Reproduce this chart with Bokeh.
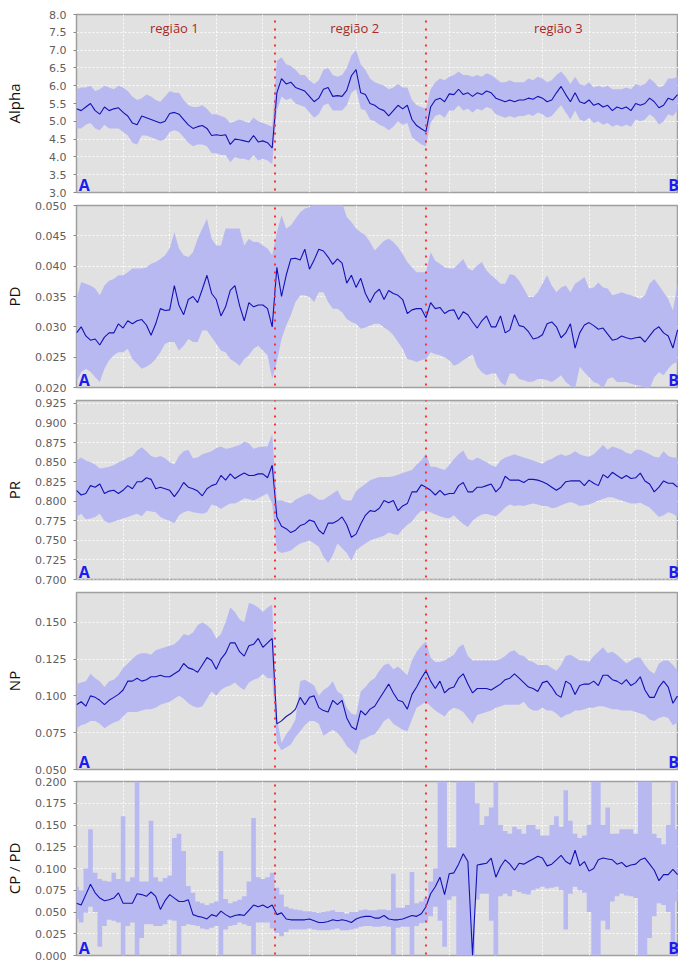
import numpy as np
from bokeh.plotting import figure
from bokeh.layouts import column
from bokeh.models import Range1d, SingleIntervalTicker, NumeralTickFormatter, Arrow
from bokeh.core.properties import value
from bokeh.embed import file_html
from bokeh.resources import INLINE

# ---------------- data ----------------
STEP = 0.1          # sample spacing along the transect (grid units)
X_END = 12.92
REGION_BOUNDS = [4.26, 7.50]
REGION_NAMES = ["região 1", "região 2", "região 3"]
REGION_LABEL_X = [2.10, 5.97, 10.34]
REGION_LABEL_Y = 7.62
END_LABELS = ["A", "B"]
END_LABEL_X = [0.05, 12.70]

ALPHA = [5.35, 5.30, 5.40, 5.50, 5.30, 5.20, 5.40, 5.30, 5.35, 5.38,
         5.25, 5.15, 4.95, 4.90, 5.15, 5.10, 5.05, 5.00, 4.95, 5.00,
         5.22, 5.25, 5.20, 5.05, 4.90, 4.80, 4.85, 4.88, 4.80, 4.60,
         4.62, 4.60, 4.62, 4.35, 4.50, 4.48, 4.45, 4.42, 4.60, 4.42,
         4.45, 4.40, 4.25, 5.80, 6.20, 6.05, 6.10, 5.95, 5.90, 5.85,
         5.70, 5.55, 5.65, 5.90, 5.95, 5.70, 5.72, 5.70, 5.87, 6.28,
         6.45, 5.80, 5.75, 5.50, 5.45, 5.35, 5.30, 5.15, 5.30, 5.45,
         5.35, 5.45, 5.05, 4.88, 4.79, 4.71, 5.40, 5.60, 5.65, 5.55,
         5.77, 5.75, 5.90, 5.75, 5.80, 5.70, 5.80, 5.75, 5.85, 5.80,
         5.65, 5.60, 5.55, 5.60, 5.55, 5.60, 5.60, 5.65, 5.62, 5.70,
         5.65, 5.55, 5.60, 5.80, 5.98, 5.75, 5.55, 5.80, 5.55, 5.50,
         5.60, 5.45, 5.50, 5.40, 5.45, 5.30, 5.40, 5.35, 5.40, 5.30,
         5.50, 5.45, 5.50, 5.65, 5.55, 5.38, 5.45, 5.65, 5.60, 5.75]
ALPHA_HI = [5.90, 5.95, 5.95, 6.00, 5.85, 5.90, 6.00, 5.95, 5.90, 6.00,
            5.95, 5.85, 5.70, 5.60, 5.65, 5.75, 5.70, 5.60, 5.55, 5.70,
            5.85, 5.80, 5.80, 5.60, 5.45, 5.40, 5.40, 5.45, 5.35, 5.20,
            5.20, 5.15, 5.10, 4.95, 5.00, 5.05, 5.00, 4.95, 5.10, 5.00,
            4.95, 4.90, 4.85, 6.70, 6.80, 6.60, 6.55, 6.45, 6.30, 6.30,
            6.15, 6.05, 6.15, 6.45, 6.50, 6.30, 6.25, 6.30, 6.50, 6.85,
            7.00, 6.60, 6.45, 6.20, 6.10, 6.05, 6.00, 5.90, 5.95, 6.05,
            5.95, 5.95, 5.60, 5.45, 5.40, 5.35, 5.90, 6.10, 6.20, 6.15,
            6.25, 6.30, 6.40, 6.30, 6.30, 6.25, 6.30, 6.25, 6.35, 6.30,
            6.20, 6.10, 6.10, 6.15, 6.10, 6.10, 6.10, 6.20, 6.15, 6.25,
            6.20, 6.10, 6.15, 6.30, 6.40, 6.25, 6.05, 6.25, 6.05, 6.00,
            6.10, 5.95, 6.00, 5.95, 6.00, 5.90, 5.90, 5.90, 5.95, 5.90,
            6.05, 6.00, 6.05, 6.20, 6.10, 5.95, 6.00, 6.20, 6.20, 6.25]
ALPHA_LO = [4.80, 4.80, 4.90, 4.95, 4.80, 4.75, 4.90, 4.80, 4.80, 4.80,
            4.70, 4.60, 4.40, 4.35, 4.60, 4.60, 4.55, 4.50, 4.45, 4.50,
            4.70, 4.75, 4.70, 4.55, 4.40, 4.30, 4.35, 4.35, 4.30, 4.10,
            4.10, 4.05, 4.05, 3.85, 4.00, 3.95, 3.95, 3.90, 4.05, 3.90,
            3.95, 3.90, 3.80, 5.30, 5.70, 5.60, 5.65, 5.50, 5.45, 5.40,
            5.25, 5.10, 5.20, 5.45, 5.50, 5.30, 5.30, 5.30, 5.45, 5.80,
            5.90, 5.35, 5.30, 5.05, 5.00, 4.90, 4.85, 4.75, 4.85, 5.00,
            4.90, 4.95, 4.55, 4.45, 4.35, 4.30, 4.95, 5.15, 5.20, 5.10,
            5.30, 5.30, 5.45, 5.30, 5.35, 5.25, 5.35, 5.30, 5.40, 5.35,
            5.20, 5.15, 5.10, 5.15, 5.10, 5.15, 5.15, 5.20, 5.15, 5.25,
            5.20, 5.10, 5.15, 5.30, 5.45, 5.25, 5.05, 5.30, 5.05, 5.00,
            5.10, 4.95, 5.00, 4.90, 4.95, 4.85, 4.90, 4.85, 4.90, 4.85,
            5.05, 5.00, 5.05, 5.20, 5.10, 4.90, 5.00, 5.20, 5.15, 5.30]

PD = [0.0290, 0.0300, 0.0285, 0.0278, 0.0280, 0.0270, 0.0283, 0.0290, 0.0290, 0.0305,
      0.0298, 0.0310, 0.0305, 0.0310, 0.0312, 0.0303, 0.0286, 0.0305, 0.0330, 0.0327,
      0.0328, 0.0368, 0.0335, 0.0320, 0.0345, 0.0350, 0.0340, 0.0362, 0.0385, 0.0355,
      0.0345, 0.0318, 0.0333, 0.0360, 0.0368, 0.0335, 0.0310, 0.0340, 0.0333, 0.0336,
      0.0336, 0.0330, 0.0300, 0.0398, 0.0350, 0.0385, 0.0412, 0.0413, 0.0410, 0.0428,
      0.0395, 0.0410, 0.0428, 0.0425, 0.0415, 0.0403, 0.0412, 0.0405, 0.0372, 0.0385,
      0.0365, 0.0380, 0.0355, 0.0340, 0.0355, 0.0362, 0.0345, 0.0360, 0.0355, 0.0352,
      0.0345, 0.0322, 0.0328, 0.0330, 0.0330, 0.0315, 0.0340, 0.0330, 0.0332, 0.0322,
      0.0327, 0.0328, 0.0312, 0.0325, 0.0320, 0.0308, 0.0298, 0.0310, 0.0318, 0.0300,
      0.0300, 0.0318, 0.0290, 0.0295, 0.0320, 0.0302, 0.0300, 0.0292, 0.0280, 0.0282,
      0.0287, 0.0305, 0.0308, 0.0300, 0.0282, 0.0290, 0.0305, 0.0265, 0.0290, 0.0303,
      0.0307, 0.0302, 0.0296, 0.0298, 0.0288, 0.0278, 0.0280, 0.0285, 0.0282, 0.0280,
      0.0282, 0.0283, 0.0275, 0.0285, 0.0295, 0.0300, 0.0290, 0.0285, 0.0265, 0.0295]
PD_HI = [0.0346, 0.0374, 0.0371, 0.0368, 0.0363, 0.0352, 0.0368, 0.0376, 0.0379, 0.0385,
         0.0385, 0.0390, 0.0396, 0.0396, 0.0396, 0.0398, 0.0404, 0.0407, 0.0412, 0.0418,
         0.0429, 0.0456, 0.0429, 0.0418, 0.0415, 0.0423, 0.0445, 0.0462, 0.0478, 0.0445,
         0.0434, 0.0434, 0.0462, 0.0462, 0.0462, 0.0462, 0.0434, 0.0445, 0.0440, 0.0440,
         0.0434, 0.0429, 0.0418, 0.0456, 0.0484, 0.0462, 0.0467, 0.0478, 0.0489, 0.0495,
         0.0497, 0.0505, 0.0510, 0.0510, 0.0510, 0.0510, 0.0510, 0.0505, 0.0481, 0.0473,
         0.0462, 0.0456, 0.0451, 0.0440, 0.0426, 0.0434, 0.0442, 0.0445, 0.0440, 0.0431,
         0.0420, 0.0407, 0.0398, 0.0390, 0.0390, 0.0390, 0.0423, 0.0409, 0.0404, 0.0398,
         0.0396, 0.0396, 0.0404, 0.0412, 0.0396, 0.0393, 0.0401, 0.0407, 0.0393, 0.0385,
         0.0379, 0.0371, 0.0371, 0.0387, 0.0385, 0.0376, 0.0363, 0.0349, 0.0349, 0.0357,
         0.0371, 0.0385, 0.0368, 0.0357, 0.0365, 0.0368, 0.0357, 0.0371, 0.0376, 0.0382,
         0.0363, 0.0365, 0.0373, 0.0365, 0.0363, 0.0352, 0.0354, 0.0357, 0.0354, 0.0352,
         0.0349, 0.0346, 0.0352, 0.0371, 0.0379, 0.0368, 0.0357, 0.0346, 0.0327, 0.0371]
PD_LO = [0.0209, 0.0225, 0.0231, 0.0226, 0.0217, 0.0209, 0.0231, 0.0245, 0.0253, 0.0258,
         0.0258, 0.0264, 0.0247, 0.0239, 0.0231, 0.0234, 0.0239, 0.0247, 0.0258, 0.0272,
         0.0275, 0.0275, 0.0261, 0.0269, 0.0280, 0.0275, 0.0275, 0.0294, 0.0294, 0.0283,
         0.0272, 0.0261, 0.0258, 0.0247, 0.0242, 0.0236, 0.0247, 0.0253, 0.0264, 0.0269,
         0.0261, 0.0253, 0.0214, 0.0242, 0.0280, 0.0302, 0.0319, 0.0341, 0.0352, 0.0352,
         0.0349, 0.0341, 0.0357, 0.0357, 0.0341, 0.0330, 0.0330, 0.0324, 0.0313, 0.0308,
         0.0305, 0.0297, 0.0299, 0.0302, 0.0305, 0.0305, 0.0299, 0.0294, 0.0286, 0.0275,
         0.0264, 0.0247, 0.0245, 0.0242, 0.0245, 0.0247, 0.0258, 0.0255, 0.0253, 0.0250,
         0.0245, 0.0236, 0.0239, 0.0245, 0.0250, 0.0255, 0.0234, 0.0225, 0.0220, 0.0223,
         0.0223, 0.0209, 0.0203, 0.0223, 0.0223, 0.0214, 0.0212, 0.0209, 0.0210, 0.0214,
         0.0214, 0.0212, 0.0209, 0.0214, 0.0220, 0.0209, 0.0203, 0.0198, 0.0234, 0.0225,
         0.0217, 0.0209, 0.0206, 0.0198, 0.0214, 0.0217, 0.0209, 0.0209, 0.0209, 0.0206,
         0.0204, 0.0203, 0.0199, 0.0198, 0.0217, 0.0225, 0.0220, 0.0231, 0.0239, 0.0242]

PR = [0.814, 0.808, 0.810, 0.820, 0.818, 0.822, 0.810, 0.813, 0.814, 0.810,
      0.814, 0.820, 0.816, 0.825, 0.825, 0.830, 0.828, 0.816, 0.818, 0.816,
      0.814, 0.806, 0.814, 0.824, 0.818, 0.816, 0.813, 0.807, 0.816, 0.820,
      0.822, 0.833, 0.827, 0.835, 0.829, 0.833, 0.836, 0.833, 0.833, 0.835,
      0.835, 0.830, 0.846, 0.780, 0.768, 0.765, 0.760, 0.763, 0.769, 0.771,
      0.776, 0.774, 0.763, 0.758, 0.772, 0.772, 0.775, 0.780, 0.770, 0.754,
      0.758, 0.771, 0.782, 0.788, 0.787, 0.791, 0.801, 0.798, 0.801, 0.788,
      0.794, 0.797, 0.812, 0.812, 0.821, 0.818, 0.814, 0.808, 0.814, 0.808,
      0.810, 0.810, 0.820, 0.824, 0.812, 0.812, 0.818, 0.818, 0.820, 0.822,
      0.812, 0.818, 0.832, 0.827, 0.827, 0.827, 0.824, 0.828, 0.828, 0.827,
      0.825, 0.822, 0.818, 0.814, 0.818, 0.825, 0.826, 0.826, 0.826, 0.820,
      0.827, 0.823, 0.820, 0.834, 0.830, 0.837, 0.833, 0.829, 0.833, 0.829,
      0.830, 0.836, 0.826, 0.822, 0.812, 0.818, 0.826, 0.823, 0.823, 0.818]
PR_HI = [0.852, 0.856, 0.852, 0.850, 0.847, 0.842, 0.843, 0.844, 0.846, 0.850,
         0.852, 0.856, 0.858, 0.865, 0.869, 0.864, 0.858, 0.856, 0.858, 0.855,
         0.850, 0.847, 0.858, 0.864, 0.866, 0.855, 0.856, 0.860, 0.862, 0.864,
         0.868, 0.870, 0.867, 0.868, 0.870, 0.872, 0.876, 0.874, 0.867, 0.869,
         0.870, 0.870, 0.886, 0.801, 0.801, 0.799, 0.797, 0.802, 0.805, 0.808,
         0.810, 0.806, 0.802, 0.802, 0.806, 0.810, 0.814, 0.803, 0.801, 0.801,
         0.813, 0.818, 0.822, 0.827, 0.829, 0.831, 0.831, 0.831, 0.832, 0.834,
         0.836, 0.838, 0.840, 0.847, 0.852, 0.861, 0.844, 0.844, 0.842, 0.840,
         0.846, 0.854, 0.860, 0.865, 0.854, 0.852, 0.856, 0.853, 0.850, 0.846,
         0.844, 0.852, 0.856, 0.858, 0.860, 0.858, 0.856, 0.854, 0.852, 0.850,
         0.848, 0.852, 0.854, 0.858, 0.860, 0.858, 0.860, 0.864, 0.860, 0.858,
         0.857, 0.860, 0.866, 0.872, 0.866, 0.870, 0.868, 0.866, 0.862, 0.860,
         0.866, 0.866, 0.863, 0.860, 0.857, 0.856, 0.864, 0.858, 0.856, 0.856]
PR_LO = [0.780, 0.784, 0.777, 0.778, 0.780, 0.784, 0.775, 0.772, 0.774, 0.776,
         0.778, 0.780, 0.782, 0.784, 0.781, 0.788, 0.787, 0.786, 0.780, 0.777,
         0.775, 0.772, 0.782, 0.786, 0.788, 0.786, 0.785, 0.784, 0.786, 0.796,
         0.794, 0.790, 0.794, 0.797, 0.797, 0.800, 0.804, 0.803, 0.801, 0.804,
         0.807, 0.810, 0.797, 0.737, 0.734, 0.735, 0.737, 0.742, 0.746, 0.748,
         0.750, 0.746, 0.742, 0.729, 0.721, 0.731, 0.746, 0.740, 0.734, 0.724,
         0.737, 0.742, 0.746, 0.750, 0.752, 0.754, 0.756, 0.760, 0.758, 0.757,
         0.764, 0.770, 0.774, 0.782, 0.788, 0.788, 0.786, 0.783, 0.781, 0.779,
         0.778, 0.782, 0.776, 0.771, 0.767, 0.775, 0.780, 0.783, 0.784, 0.782,
         0.781, 0.786, 0.792, 0.796, 0.794, 0.795, 0.794, 0.796, 0.797, 0.796,
         0.794, 0.794, 0.791, 0.792, 0.795, 0.797, 0.799, 0.797, 0.794, 0.795,
         0.796, 0.798, 0.801, 0.803, 0.805, 0.805, 0.803, 0.801, 0.799, 0.797,
         0.797, 0.798, 0.795, 0.792, 0.786, 0.780, 0.782, 0.786, 0.784, 0.780]

NP = [0.094, 0.096, 0.093, 0.100, 0.099, 0.097, 0.094, 0.097, 0.099, 0.101,
      0.104, 0.110, 0.110, 0.112, 0.110, 0.111, 0.113, 0.113, 0.114, 0.113,
      0.113, 0.115, 0.117, 0.122, 0.119, 0.118, 0.116, 0.121, 0.126, 0.124,
      0.118, 0.125, 0.129, 0.136, 0.136, 0.130, 0.127, 0.134, 0.135, 0.139,
      0.133, 0.136, 0.139, 0.081, 0.083, 0.086, 0.088, 0.091, 0.099, 0.094,
      0.099, 0.100, 0.092, 0.090, 0.089, 0.097, 0.094, 0.097, 0.085, 0.079,
      0.077, 0.090, 0.087, 0.091, 0.093, 0.098, 0.103, 0.108, 0.102, 0.097,
      0.096, 0.091, 0.101, 0.106, 0.112, 0.117, 0.110, 0.105, 0.110, 0.102,
      0.105, 0.106, 0.112, 0.115, 0.108, 0.102, 0.105, 0.105, 0.105, 0.104,
      0.106, 0.108, 0.111, 0.112, 0.115, 0.112, 0.109, 0.106, 0.105, 0.103,
      0.109, 0.110, 0.106, 0.101, 0.099, 0.110, 0.108, 0.101, 0.107, 0.108,
      0.108, 0.110, 0.107, 0.114, 0.114, 0.111, 0.110, 0.108, 0.111, 0.107,
      0.109, 0.113, 0.104, 0.099, 0.099, 0.106, 0.110, 0.106, 0.095, 0.100]
NP_HI = [0.108, 0.109, 0.110, 0.115, 0.112, 0.110, 0.106, 0.110, 0.111, 0.114,
         0.119, 0.122, 0.125, 0.128, 0.129, 0.129, 0.128, 0.131, 0.132, 0.133,
         0.134, 0.135, 0.138, 0.142, 0.141, 0.143, 0.148, 0.150, 0.148, 0.145,
         0.139, 0.142, 0.150, 0.160, 0.157, 0.152, 0.150, 0.163, 0.162, 0.160,
         0.157, 0.160, 0.162, 0.085, 0.068, 0.074, 0.078, 0.084, 0.110, 0.111,
         0.109, 0.107, 0.100, 0.104, 0.106, 0.110, 0.103, 0.101, 0.092, 0.088,
         0.087, 0.103, 0.106, 0.110, 0.112, 0.117, 0.121, 0.122, 0.118, 0.120,
         0.117, 0.114, 0.124, 0.130, 0.134, 0.137, 0.126, 0.123, 0.123, 0.124,
         0.126, 0.128, 0.133, 0.135, 0.127, 0.124, 0.124, 0.124, 0.124, 0.124,
         0.124, 0.125, 0.127, 0.130, 0.131, 0.128, 0.127, 0.124, 0.123, 0.121,
         0.121, 0.121, 0.119, 0.117, 0.121, 0.127, 0.128, 0.126, 0.124, 0.124,
         0.123, 0.127, 0.130, 0.133, 0.129, 0.130, 0.128, 0.125, 0.122, 0.124,
         0.126, 0.126, 0.121, 0.117, 0.115, 0.122, 0.124, 0.124, 0.121, 0.117]
NP_LO = [0.078, 0.080, 0.081, 0.083, 0.083, 0.081, 0.078, 0.080, 0.082, 0.083,
         0.086, 0.089, 0.089, 0.089, 0.090, 0.091, 0.091, 0.092, 0.094, 0.095,
         0.096, 0.098, 0.100, 0.098, 0.095, 0.093, 0.092, 0.093, 0.098, 0.103,
         0.100, 0.104, 0.106, 0.107, 0.109, 0.106, 0.104, 0.109, 0.111, 0.112,
         0.115, 0.112, 0.112, 0.068, 0.063, 0.065, 0.067, 0.072, 0.076, 0.080,
         0.083, 0.083, 0.081, 0.073, 0.075, 0.077, 0.075, 0.071, 0.066, 0.063,
         0.060, 0.070, 0.071, 0.073, 0.074, 0.078, 0.083, 0.085, 0.081, 0.079,
         0.077, 0.076, 0.084, 0.092, 0.094, 0.096, 0.093, 0.090, 0.088, 0.086,
         0.090, 0.092, 0.091, 0.089, 0.085, 0.081, 0.087, 0.088, 0.089, 0.090,
         0.092, 0.093, 0.094, 0.094, 0.094, 0.094, 0.096, 0.092, 0.090, 0.090,
         0.092, 0.090, 0.090, 0.088, 0.085, 0.087, 0.088, 0.090, 0.090, 0.091,
         0.092, 0.092, 0.093, 0.093, 0.092, 0.091, 0.091, 0.090, 0.090, 0.090,
         0.089, 0.088, 0.087, 0.084, 0.083, 0.085, 0.086, 0.085, 0.080, 0.082]

CPPD = [0.060, 0.058, 0.070, 0.082, 0.072, 0.066, 0.063, 0.064, 0.066, 0.072,
        0.060, 0.060, 0.060, 0.071, 0.070, 0.068, 0.073, 0.068, 0.053, 0.063,
        0.070, 0.066, 0.062, 0.062, 0.064, 0.047, 0.045, 0.044, 0.042, 0.047,
        0.045, 0.051, 0.047, 0.044, 0.046, 0.047, 0.046, 0.052, 0.058, 0.056,
        0.058, 0.055, 0.058, 0.047, 0.049, 0.042, 0.041, 0.041, 0.041, 0.041,
        0.042, 0.040, 0.038, 0.038, 0.039, 0.041, 0.040, 0.041, 0.040, 0.038,
        0.042, 0.044, 0.045, 0.045, 0.043, 0.043, 0.046, 0.042, 0.041, 0.041,
        0.042, 0.044, 0.046, 0.045, 0.048, 0.056, 0.071, 0.079, 0.090, 0.070,
        0.094, 0.095, 0.105, 0.117, 0.108, 0.000, 0.104, 0.105, 0.106, 0.112,
        0.090, 0.102, 0.110, 0.105, 0.098, 0.106, 0.105, 0.108, 0.111, 0.114,
        0.112, 0.103, 0.105, 0.110, 0.115, 0.108, 0.105, 0.121, 0.103, 0.108,
        0.097, 0.100, 0.110, 0.112, 0.111, 0.110, 0.105, 0.107, 0.102, 0.104,
        0.105, 0.110, 0.112, 0.105, 0.098, 0.086, 0.093, 0.093, 0.099, 0.093]
CPPD_HI = [0.079, 0.075, 0.100, 0.145, 0.095, 0.088, 0.086, 0.085, 0.095, 0.088,
           0.160, 0.085, 0.090, 0.200, 0.085, 0.085, 0.155, 0.090, 0.085, 0.089,
           0.092, 0.135, 0.140, 0.120, 0.080, 0.072, 0.062, 0.060, 0.058, 0.060,
           0.062, 0.120, 0.065, 0.060, 0.062, 0.064, 0.068, 0.085, 0.158, 0.090,
           0.088, 0.090, 0.095, 0.078, 0.070, 0.056, 0.054, 0.053, 0.052, 0.051,
           0.051, 0.050, 0.049, 0.050, 0.051, 0.052, 0.050, 0.050, 0.048, 0.050,
           0.050, 0.052, 0.053, 0.052, 0.052, 0.053, 0.053, 0.052, 0.094, 0.055,
           0.055, 0.058, 0.096, 0.060, 0.062, 0.066, 0.085, 0.100, 0.200, 0.200,
           0.124, 0.124, 0.200, 0.200, 0.200, 0.200, 0.175, 0.150, 0.160, 0.170,
           0.200, 0.150, 0.143, 0.140, 0.148, 0.145, 0.140, 0.150, 0.150, 0.145,
           0.138, 0.138, 0.150, 0.160, 0.148, 0.190, 0.155, 0.140, 0.135, 0.138,
           0.150, 0.200, 0.200, 0.150, 0.170, 0.140, 0.140, 0.145, 0.145, 0.145,
           0.140, 0.200, 0.200, 0.200, 0.140, 0.135, 0.128, 0.150, 0.200, 0.145]
CPPD_LO = [0.042, 0.038, 0.049, 0.056, 0.050, 0.010, 0.034, 0.041, 0.040, 0.038,
           0.000, 0.034, 0.038, 0.000, 0.020, 0.036, 0.036, 0.034, 0.034, 0.036,
           0.041, 0.040, 0.000, 0.034, 0.036, 0.035, 0.034, 0.031, 0.030, 0.032,
           0.034, 0.000, 0.030, 0.034, 0.035, 0.038, 0.036, 0.034, 0.000, 0.038,
           0.038, 0.038, 0.031, 0.026, 0.022, 0.027, 0.030, 0.030, 0.030, 0.030,
           0.031, 0.030, 0.029, 0.029, 0.029, 0.030, 0.031, 0.029, 0.029, 0.030,
           0.031, 0.033, 0.034, 0.034, 0.033, 0.033, 0.034, 0.033, 0.000, 0.032,
           0.033, 0.033, 0.000, 0.034, 0.037, 0.038, 0.045, 0.056, 0.040, 0.010,
           0.064, 0.068, 0.000, 0.000, 0.000, 0.000, 0.064, 0.071, 0.071, 0.040,
           0.000, 0.068, 0.071, 0.068, 0.075, 0.073, 0.071, 0.070, 0.075, 0.077,
           0.079, 0.077, 0.078, 0.079, 0.075, 0.030, 0.071, 0.079, 0.075, 0.072,
           0.050, 0.000, 0.000, 0.040, 0.030, 0.062, 0.068, 0.071, 0.069, 0.068,
           0.066, 0.000, 0.000, 0.020, 0.045, 0.060, 0.058, 0.050, 0.000, 0.062]

PANEL_NAMES = ["Alpha", "PD", "PR", "NP", "CP / PD"]
PANEL_LINES = [ALPHA, PD, PR, NP, CPPD]
PANEL_HI = [ALPHA_HI, PD_HI, PR_HI, NP_HI, CPPD_HI]
PANEL_LO = [ALPHA_LO, PD_LO, PR_LO, NP_LO, CPPD_LO]
PANEL_SPIKY = [False, False, False, False, True]
Y_RANGES = [(3.0, 8.0), (0.020, 0.050), (0.700, 0.9288), (0.050, 0.1702), (0.000, 0.200)]
Y_TICK_STEP = [0.5, 0.005, 0.025, 0.025, 0.025]
Y_FORMAT = ["0.0", "0.000", "0.000", "0.000", "0.000"]

# ---------------- layout / style ----------------
FIG_W = 678
LEFT = 76
BORDERS = [(14, 178, 6), (7, 182, 6), (7, 179, 6), (7, 177, 6), (6, 174, 7)]  # top, frame, bottom
LABEL_STANDOFF = [22, 8, 8, 8, 8]
AB_LIFT = [8, 8, 8, 8, 8]   # px from frame bottom to centre of the A / B letters

BG = "#e1e1e1"
BAND = "#b9b9f1"
LINE = "#1212b4"
RED = "#ff3030"

figs = []
for i, name in enumerate(PANEL_NAMES):
    top, fh, bot = BORDERS[i]
    y0, y1 = Y_RANGES[i]
    span = y1 - y0
    p = figure(width=FIG_W, height=top + fh + bot,
               x_range=Range1d(0, X_END), y_range=Range1d(y0, y1),
               output_backend="svg", toolbar_location=None,
               min_border_left=LEFT, min_border_right=0,
               min_border_top=top, min_border_bottom=bot,
               background_fill_color=BG, border_fill_color="white",
               outline_line_color="#a0a0a0", outline_line_width=1.5)
    x = np.arange(len(PANEL_LINES[i])) * STEP

    if PANEL_SPIKY[i]:
        p.varea_step(x=x, y1=PANEL_LO[i], y2=PANEL_HI[i], step_mode="center",
                     fill_color=BAND, fill_alpha=1.0)
    else:
        p.varea(x=x, y1=PANEL_LO[i], y2=PANEL_HI[i], fill_color=BAND, fill_alpha=1.0)
    p.line(x, PANEL_LINES[i], line_color=LINE, line_width=1.1)

    # axes
    p.xaxis.visible = False
    ax = p.yaxis[0]
    ax.ticker = SingleIntervalTicker(interval=Y_TICK_STEP[i], num_minor_ticks=0)
    ax.formatter = NumeralTickFormatter(format=Y_FORMAT[i])
    ax.major_label_text_font = "DejaVu Sans"
    ax.major_label_text_font_size = "11px"
    ax.major_label_text_color = "#606060"
    ax.major_tick_out = 3
    ax.major_tick_in = 0
    ax.minor_tick_out = 0
    ax.minor_tick_in = 0
    ax.major_tick_line_color = "#888888"
    ax.axis_line_color = None
    ax.major_label_standoff = 7
    ax.axis_label = name
    ax.axis_label_text_font = "Open Sans"
    ax.axis_label_text_font_size = "15px"
    ax.axis_label_text_font_style = "normal"
    ax.axis_label_text_color = "#111111"
    ax.axis_label_standoff = LABEL_STANDOFF[i]

    # grids
    p.xgrid.ticker = SingleIntervalTicker(interval=1)
    for g in (p.xgrid[0], p.ygrid[0]):
        g.grid_line_color = "white"
        g.grid_line_dash = "2 2"
        g.grid_line_alpha = 0.9
        g.grid_line_width = 1

    # region separators (dotted red), extended through the gaps between panels
    ys = y0 - bot / fh * span
    ye = y1 if i == 0 else y1 + top / fh * span
    for b in REGION_BOUNDS:
        p.add_layout(Arrow(end=None, x_start=b, x_end=b, y_start=ys, y_end=ye,
                           line_color=RED, line_width=2, line_dash="2 6"))

    # region names in first panel
    if i == 0:
        p.text(x=REGION_LABEL_X, y=[REGION_LABEL_Y] * 3, text=REGION_NAMES,
               text_font=value("Open Sans"), text_font_size="13px",
               text_color="#a52a2a", text_align="center", text_baseline="middle")

    # A / B end markers
    ab_y = y0 + AB_LIFT[i] / fh * span
    p.text(x=END_LABEL_X, y=[ab_y, ab_y], text=END_LABELS,
           text_font=value("Open Sans"), text_font_size="16px", text_font_style="bold",
           text_color="#1c1cf0", text_align="left", text_baseline="middle")
    figs.append(p)

layout = column(*figs, spacing=0)
open("out.html", "w").write(file_html(layout, INLINE))
